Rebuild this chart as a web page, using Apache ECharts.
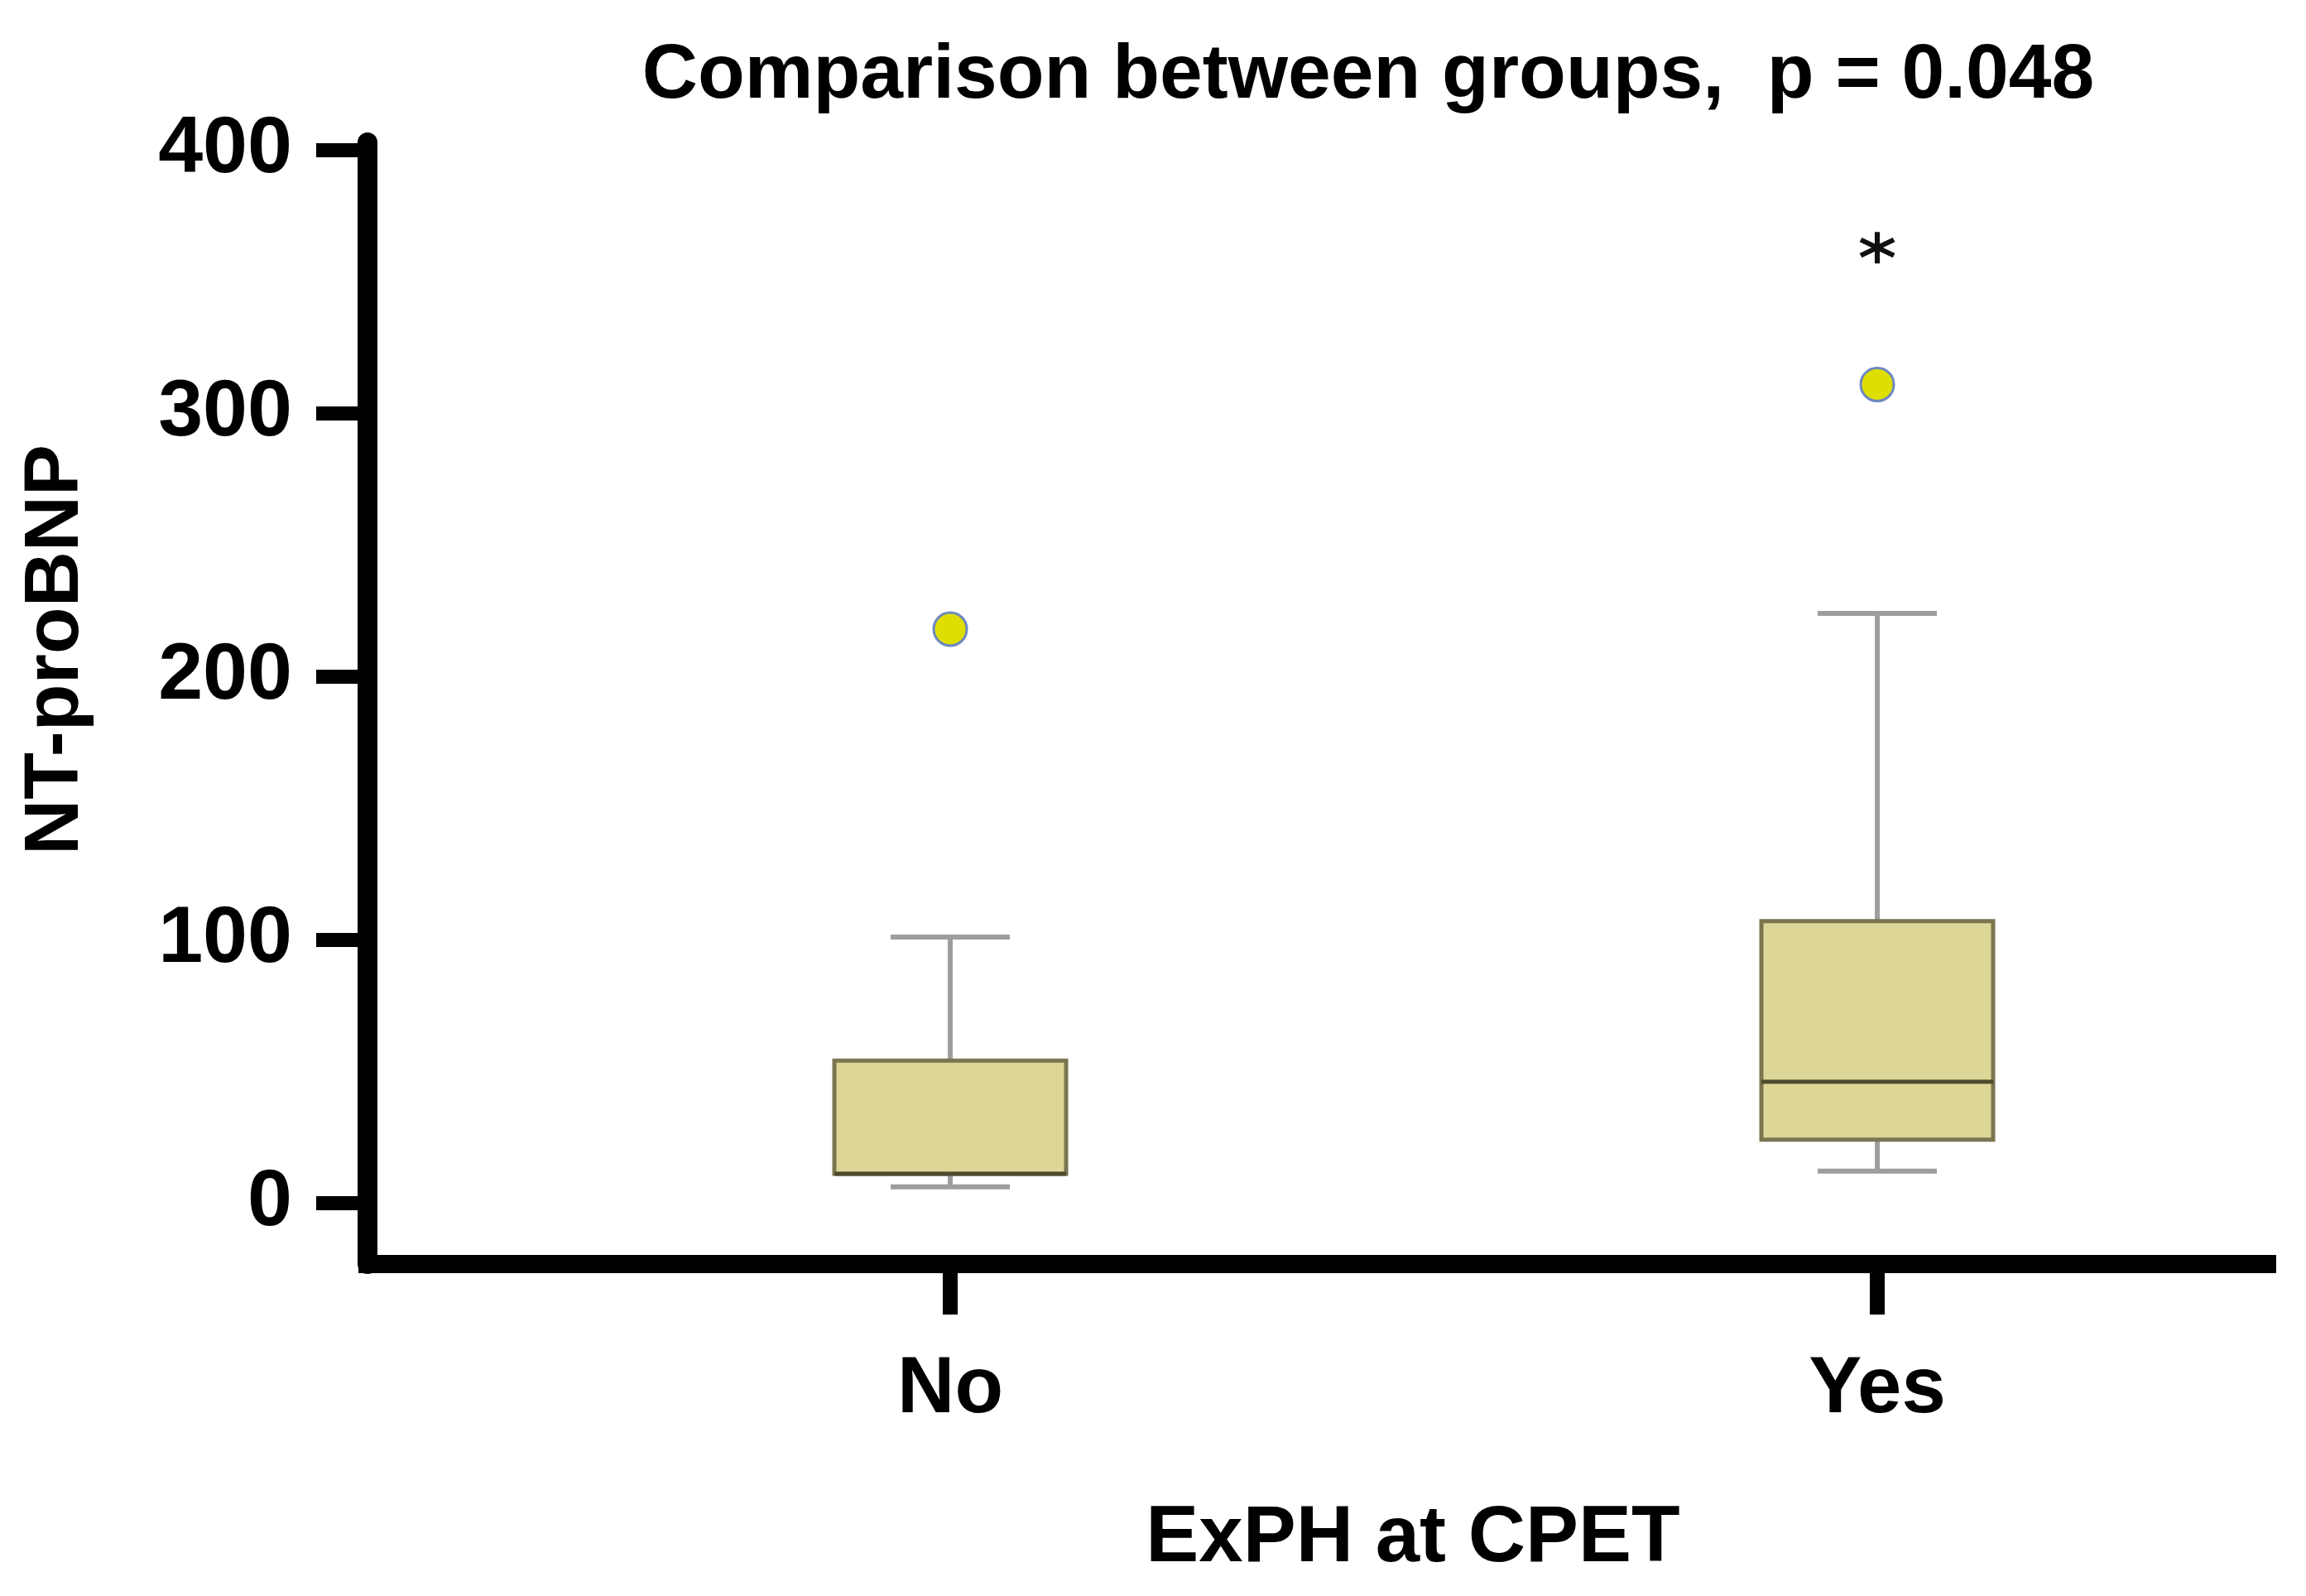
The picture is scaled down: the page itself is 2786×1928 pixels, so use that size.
<!DOCTYPE html>
<html><head><meta charset="utf-8">
<script src="https://cdn.jsdelivr.net/npm/echarts@6/dist/echarts.min.js"></script>
<style>html,body{margin:0;padding:0;background:#fff}#c{width:2786px;height:1928px}</style>
</head><body><div id="c"></div>
<script>
const categories = ['No', 'Yes'];
// min, Q1, median, Q3, max (whisker ends)
const boxStats = [[6, 11, 11, 54, 101], [12, 24, 46, 107, 224]];
const outliers = [[0, 218], [1, 311]];
const extremes = [[1, 363]];
const yTicks = [0, 100, 200, 300, 400];
const xTicks = [0, 1];
const titleText = 'Comparison between groups,  p = 0.048';
const xName = 'ExPH at CPET';
const yName = 'NT-proBNP';

const chart = echarts.init(document.getElementById('c'), null, {renderer: 'canvas'});
const font = "'Liberation Sans', Arial, sans-serif";
const boxData = boxStats.map((s, i) => [xTicks[i]].concat(s));

const option = {
  backgroundColor: '#fff',
  animation: false,
  grid: {left: 444, top: 172, width: 2295, height: 1355},
  xAxis: {
    type: 'value', min: -0.6286, max: 1.4205,
    axisLine: {show: true, onZero: false, lineStyle: {color: '#000', width: 22, cap: 'square'}},
    axisTick: {show: true, customValues: xTicks, length: 61, lineStyle: {color: '#000', width: 18}},
    axisLabel: {customValues: xTicks, formatter: v => categories[Math.round(v)] || '', margin: 105,
      color: '#000', fontFamily: font, fontWeight: 'bold', fontSize: 96},
    splitLine: {show: false}
  },
  yAxis: {
    type: 'value', min: -23.3, max: 403,
    axisLine: {show: true, onZero: false, lineStyle: {color: '#000', width: 24}},
    axisTick: {show: true, customValues: yTicks, length: 62, lineStyle: {color: '#000', width: 17}},
    axisLabel: {customValues: yTicks, margin: 91, color: '#000', fontFamily: font, fontWeight: 'bold', fontSize: 97},
    splitLine: {show: false}
  },
  graphic: [
    {type: 'text', x: 1653, y: 92, style: {text: titleText, font: "bold 93px 'Liberation Sans', Arial, sans-serif", fill: '#000', textAlign: 'center', textVerticalAlign: 'middle'}},
    {type: 'text', x: 68, y: 785, rotation: Math.PI / 2, style: {text: yName, font: "bold 93px 'Liberation Sans', Arial, sans-serif", fill: '#000', textAlign: 'center', textVerticalAlign: 'middle'}},
    {type: 'text', x: 1707, y: 1860, style: {text: xName, font: "bold 96px 'Liberation Sans', Arial, sans-serif", fill: '#000', textAlign: 'center', textVerticalAlign: 'middle'}}
  ],
  series: [
    {
      type: 'custom',
      data: boxData,
      encode: {x: 0, y: [1, 2, 3, 4, 5]},
      clip: false,
      renderItem: (params, api) => {
        const x = api.value(0);
        const p = [1, 2, 3, 4, 5].map(d => api.coord([x, api.value(d)]));
        const cx = p[0][0];
        const hw = 140, cw = 72;
        const wStyle = {stroke: '#9d9d9d', lineWidth: 6};
        return {type: 'group', children: [
          {type: 'line', shape: {x1: cx, y1: p[4][1], x2: cx, y2: p[3][1]}, style: wStyle},
          {type: 'line', shape: {x1: cx, y1: p[0][1], x2: cx, y2: p[1][1]}, style: wStyle},
          {type: 'line', shape: {x1: cx - cw, y1: p[4][1], x2: cx + cw, y2: p[4][1]}, style: wStyle},
          {type: 'line', shape: {x1: cx - cw, y1: p[0][1], x2: cx + cw, y2: p[0][1]}, style: wStyle},
          {type: 'rect', shape: {x: cx - hw, y: p[3][1], width: 2 * hw, height: p[1][1] - p[3][1]},
            style: {fill: '#dcd796', stroke: '#7b7550', lineWidth: 5}},
          {type: 'line', shape: {x1: cx - hw, y1: p[2][1], x2: cx + hw, y2: p[2][1]}, style: {stroke: '#4f4b30', lineWidth: 5}}
        ]};
      }
    },
    {
      type: 'scatter', data: outliers, symbol: 'circle', symbolSize: 40,
      itemStyle: {color: '#dede00', borderColor: '#6d88c2', borderWidth: 3, opacity: 1}
    },
    {
      type: 'scatter', data: extremes,
      symbol: 'path://M0,-10L0,10M-8.66,-5L8.66,5M-8.66,5L8.66,-5',
      symbolSize: [40, 38],
      itemStyle: {color: 'rgba(0,0,0,0)', borderColor: '#111', borderWidth: 6, opacity: 1}
    }
  ]
};
chart.setOption(option);
</script>
</body></html>
